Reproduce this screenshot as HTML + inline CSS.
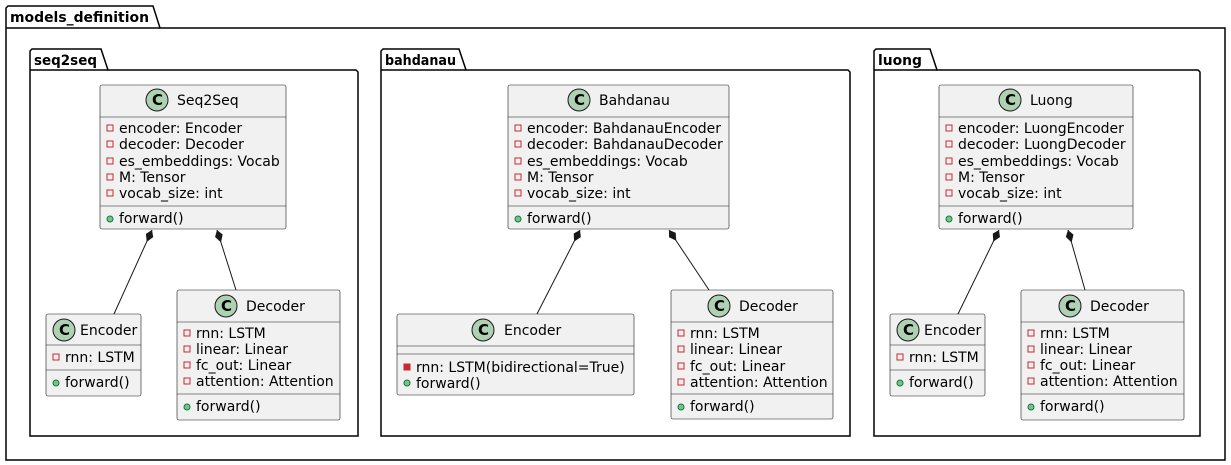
<!DOCTYPE html>
<html><head><meta charset="utf-8"><style>
html,body{margin:0;padding:0;background:#fff;}
svg{display:block;}
text{font-family:"DejaVu Sans","Liberation Sans",sans-serif;font-size:14px;fill:#000;}
.pk{font-weight:bold;}
.box{fill:#F1F1F1;stroke:#181818;stroke-width:0.6;}
.sep{stroke:#181818;stroke-width:0.6;}
.pkg{fill:none;stroke:#000;stroke-width:1.5;}
.ci{fill:#ADD1B2;stroke:#181818;stroke-width:1;}
.ct{font-weight:bold;font-size:15px;}
.priv{fill:none;stroke:#C82930;stroke-width:1;}
.pub{fill:#84BE84;stroke:#038048;stroke-width:1;}
</style></head><body>
<svg width="1231" height="465" viewBox="0 0 1231 465" xmlns="http://www.w3.org/2000/svg">
<path class="pkg" d="M6,28 L6,460 L1225,460 L1225,28 L160,28 L153,6 L8,6 L6,8 Z"/>
<line class="pkg" x1="6" y1="28" x2="160" y2="28"/>
<text class="pk" x="10" y="22" textLength="139" lengthAdjust="spacingAndGlyphs">models_definition</text>

<path class="pkg" d="M30,70 L30,436 L358,436 L358,72 L356,70 L108,70 L101,49 L32,49 L30,51 Z"/>
<line class="pkg" x1="30" y1="70" x2="108" y2="70"/>
<text class="pk" x="34" y="65" textLength="63" lengthAdjust="spacingAndGlyphs">seq2seq</text>

<path class="pkg" d="M381,70 L381,436 L850,436 L850,72 L848,70 L466,70 L459,49 L383,49 L381,51 Z"/>
<line class="pkg" x1="381" y1="70" x2="466" y2="70"/>
<text class="pk" x="385" y="65" textLength="71" lengthAdjust="spacingAndGlyphs">bahdanau</text>

<path class="pkg" d="M874,70 L874,436 L1200,436 L1200,72 L1198,70 L937,70 L930,49 L876,49 L874,51 Z"/>
<line class="pkg" x1="874" y1="70" x2="937" y2="70"/>
<text class="pk" x="878" y="65" textLength="44" lengthAdjust="spacingAndGlyphs">luong</text>

<rect class="box" x="100" y="85" width="186" height="144" rx="2"/>
<circle class="ci" cx="157" cy="100" r="11"/><text class="ct" x="152" y="105">C</text>
<text x="177" y="105">Seq2Seq</text>
<line class="sep" x1="100" y1="117" x2="286" y2="117"/>
<rect class="priv" x="107" y="125" width="6" height="6"/><text x="119" y="133">encoder: Encoder</text>
<rect class="priv" x="107" y="141" width="6" height="6"/><text x="119" y="149">decoder: Decoder</text>
<rect class="priv" x="107" y="158" width="6" height="6"/><text x="119" y="166">es_embeddings: Vocab</text>
<rect class="priv" x="107" y="174" width="6" height="6"/><text x="119" y="182">M: Tensor</text>
<rect class="priv" x="107" y="190" width="6" height="6"/><text x="119" y="198">vocab_size: int</text>
<line class="sep" x1="100" y1="206" x2="286" y2="206"/>
<circle class="pub" cx="110" cy="219" r="3"/><text x="119" y="223">forward()</text>

<rect class="box" x="46" y="314" width="95" height="82" rx="2"/>
<circle class="ci" cx="64" cy="330" r="11"/><text class="ct" x="59" y="335">C</text>
<text x="80" y="335">Encoder</text>
<line class="sep" x1="46" y1="345" x2="141" y2="345"/>
<rect class="priv" x="53" y="354" width="6" height="6"/><text x="65" y="362">rnn: LSTM</text>
<line class="sep" x1="46" y1="370" x2="141" y2="370"/>
<circle class="pub" cx="56" cy="383" r="3"/><text x="65" y="387">forward()</text>

<rect class="box" x="177" y="290" width="163" height="130" rx="2"/>
<circle class="ci" cx="226" cy="306" r="11"/><text class="ct" x="221" y="311">C</text>
<text x="246" y="311">Decoder</text>
<line class="sep" x1="177" y1="322" x2="340" y2="322"/>
<rect class="priv" x="184" y="330" width="6" height="6"/><text x="196" y="338">rnn: LSTM</text>
<rect class="priv" x="184" y="346" width="6" height="6"/><text x="196" y="354">linear: Linear</text>
<rect class="priv" x="184" y="362" width="6" height="6"/><text x="196" y="370">fc_out: Linear</text>
<rect class="priv" x="184" y="378" width="6" height="6"/><text x="196" y="386">attention: Attention</text>
<line class="sep" x1="177" y1="394" x2="340" y2="394"/>
<circle class="pub" cx="187" cy="407" r="3"/><text x="196" y="411">forward()</text>

<rect class="box" x="508" y="85" width="221" height="144" rx="2"/>
<circle class="ci" cx="579" cy="100" r="11"/><text class="ct" x="574" y="105">C</text>
<text x="599" y="105">Bahdanau</text>
<line class="sep" x1="508" y1="117" x2="729" y2="117"/>
<rect class="priv" x="515" y="125" width="6" height="6"/><text x="527" y="133">encoder: BahdanauEncoder</text>
<rect class="priv" x="515" y="141" width="6" height="6"/><text x="527" y="149">decoder: BahdanauDecoder</text>
<rect class="priv" x="515" y="158" width="6" height="6"/><text x="527" y="166">es_embeddings: Vocab</text>
<rect class="priv" x="515" y="174" width="6" height="6"/><text x="527" y="182">M: Tensor</text>
<rect class="priv" x="515" y="190" width="6" height="6"/><text x="527" y="198">vocab_size: int</text>
<line class="sep" x1="508" y1="206" x2="729" y2="206"/>
<circle class="pub" cx="518" cy="219" r="3"/><text x="527" y="223">forward()</text>

<rect class="box" x="397" y="314" width="237" height="81" rx="2"/>
<circle class="ci" cx="483" cy="330" r="11"/><text class="ct" x="478" y="335">C</text>
<text x="504" y="335">Encoder</text>
<line class="sep" x1="397" y1="346" x2="634" y2="346"/>
<line class="sep" x1="397" y1="354" x2="634" y2="354"/>
<rect x="404" y="364" width="6" height="6" fill="#C82930" stroke="#C82930"/><text x="416" y="372">rnn: LSTM(bidirectional=True)</text>
<circle class="pub" cx="407" cy="383" r="3"/><text x="416" y="388">forward()</text>

<rect class="box" x="671" y="290" width="162" height="129" rx="2"/>
<circle class="ci" cx="719" cy="306" r="11"/><text class="ct" x="714" y="311">C</text>
<text x="739" y="311">Decoder</text>
<line class="sep" x1="671" y1="322" x2="833" y2="322"/>
<rect class="priv" x="678" y="330" width="6" height="6"/><text x="690" y="338">rnn: LSTM</text>
<rect class="priv" x="678" y="346" width="6" height="6"/><text x="690" y="354">linear: Linear</text>
<rect class="priv" x="678" y="363" width="6" height="6"/><text x="690" y="371">fc_out: Linear</text>
<rect class="priv" x="678" y="379" width="6" height="6"/><text x="690" y="387">attention: Attention</text>
<line class="sep" x1="671" y1="394" x2="833" y2="394"/>
<circle class="pub" cx="681" cy="407" r="3"/><text x="690" y="411">forward()</text>

<rect class="box" x="939" y="85" width="194" height="144" rx="2"/>
<circle class="ci" cx="1010" cy="100" r="11"/><text class="ct" x="1005" y="105">C</text>
<text x="1030" y="105">Luong</text>
<line class="sep" x1="939" y1="117" x2="1133" y2="117"/>
<rect class="priv" x="946" y="125" width="6" height="6"/><text x="958" y="133">encoder: LuongEncoder</text>
<rect class="priv" x="946" y="141" width="6" height="6"/><text x="958" y="149">decoder: LuongDecoder</text>
<rect class="priv" x="946" y="158" width="6" height="6"/><text x="958" y="166">es_embeddings: Vocab</text>
<rect class="priv" x="946" y="174" width="6" height="6"/><text x="958" y="182">M: Tensor</text>
<rect class="priv" x="946" y="190" width="6" height="6"/><text x="958" y="198">vocab_size: int</text>
<line class="sep" x1="939" y1="206" x2="1133" y2="206"/>
<circle class="pub" cx="949" cy="219" r="3"/><text x="958" y="223">forward()</text>

<rect class="box" x="890" y="314" width="95" height="82" rx="2"/>
<circle class="ci" cx="908" cy="330" r="11"/><text class="ct" x="903" y="335">C</text>
<text x="924" y="335">Encoder</text>
<line class="sep" x1="890" y1="345" x2="985" y2="345"/>
<rect class="priv" x="897" y="354" width="6" height="6"/><text x="909" y="362">rnn: LSTM</text>
<line class="sep" x1="890" y1="370" x2="985" y2="370"/>
<circle class="pub" cx="900" cy="383" r="3"/><text x="909" y="387">forward()</text>

<rect class="box" x="1021" y="290" width="163" height="130" rx="2"/>
<circle class="ci" cx="1070" cy="306" r="11"/><text class="ct" x="1065" y="311">C</text>
<text x="1090" y="311">Decoder</text>
<line class="sep" x1="1021" y1="322" x2="1184" y2="322"/>
<rect class="priv" x="1028" y="330" width="6" height="6"/><text x="1040" y="338">rnn: LSTM</text>
<rect class="priv" x="1028" y="346" width="6" height="6"/><text x="1040" y="354">linear: Linear</text>
<rect class="priv" x="1028" y="362" width="6" height="6"/><text x="1040" y="370">fc_out: Linear</text>
<rect class="priv" x="1028" y="378" width="6" height="6"/><text x="1040" y="386">attention: Attention</text>
<line class="sep" x1="1021" y1="394" x2="1184" y2="394"/>
<circle class="pub" cx="1031" cy="407" r="3"/><text x="1040" y="411">forward()</text>

<g stroke="#181818" stroke-width="1" fill="none">
<line x1="152" y1="230" x2="114" y2="314"/>
<line x1="217" y1="230" x2="236" y2="290"/>
<line x1="580" y1="230" x2="537" y2="314"/>
<line x1="669" y1="230" x2="709" y2="290"/>
<line x1="999" y1="230" x2="958" y2="314"/>
<line x1="1068" y1="230" x2="1085" y2="290"/>
</g>
<g fill="#181818">
<polygon points="0,0 6,-4 13,0 6,4" transform="translate(152,230) rotate(114)"/>
<polygon points="0,0 6,-4 13,0 6,4" transform="translate(217,230) rotate(72)"/>
<polygon points="0,0 6,-4 13,0 6,4" transform="translate(580,230) rotate(117)"/>
<polygon points="0,0 6,-4 13,0 6,4" transform="translate(669,230) rotate(56)"/>
<polygon points="0,0 6,-4 13,0 6,4" transform="translate(999,230) rotate(116)"/>
<polygon points="0,0 6,-4 13,0 6,4" transform="translate(1068,230) rotate(74)"/>
</g>
</svg>
</body></html>
